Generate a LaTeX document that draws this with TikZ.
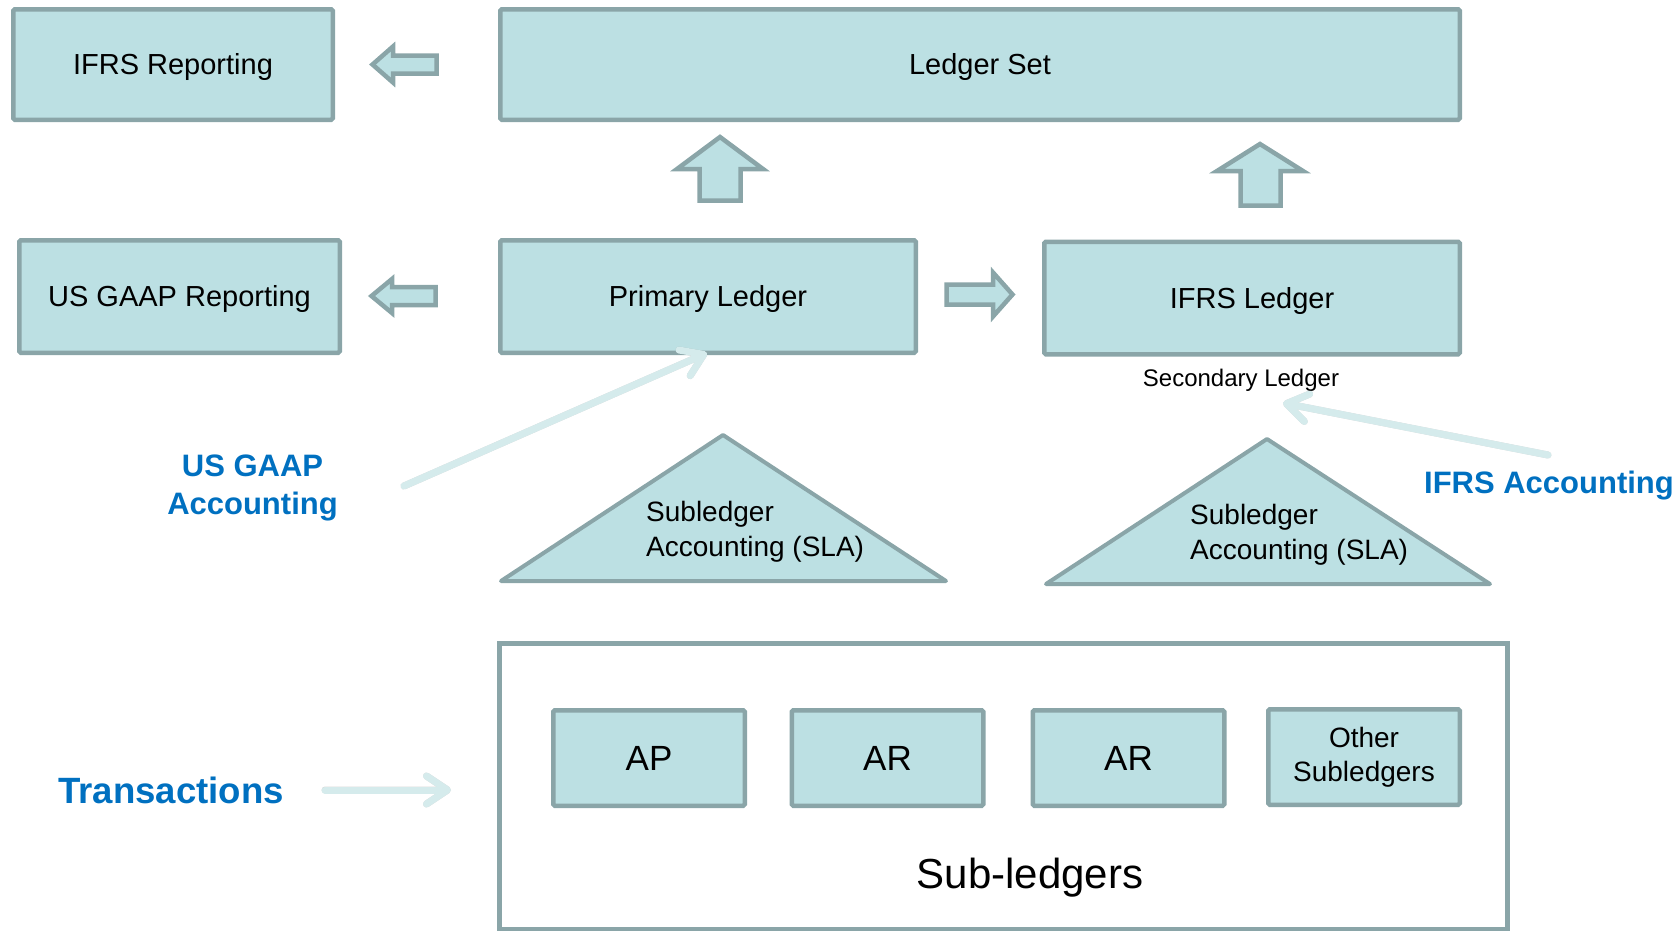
\documentclass[tikz,border=0pt]{standalone}
\usepackage{fontspec}
\setmainfont{Liberation Sans}
\usetikzlibrary{arrows.meta}

\definecolor{tealfill}{HTML}{BCE0E3}
\definecolor{tealedge}{HTML}{8AA5A8}
\definecolor{paleflow}{HTML}{D5EBEC}
\definecolor{labelblue}{HTML}{0070C0}

\tikzset{
  ledgerbox/.style={draw=tealedge, fill=tealfill, line width=4.5pt, rounded corners=1.5pt,
    inner sep=0pt, font=\fontsize{29}{34}\selectfont},
  oneline/.style={text height=20.8pt, text depth=0pt},
  bigline/.style={font=\fontsize{35}{40}\selectfont, text height=25.1pt, text depth=0pt},
  blockarrow/.style={draw=tealedge, fill=tealfill, line width=4.5pt, line join=miter},
  slatri/.style={draw=tealedge, fill=tealfill, line width=4pt, line join=round},
  slatext/.style={anchor=west, inner sep=0pt, align=left, font=\fontsize{28}{35}\selectfont},
  flowarrow/.style={draw=paleflow, line width=7pt, line cap=round,
    -{Straight Barb[length=21pt, width=28pt, round]}},
  flowshade/.style={draw=black, line width=7pt, line cap=round,
    -{Straight Barb[length=21pt, width=28pt, round]}},
  bluelabel/.style={text=labelblue, inner sep=0pt, align=center,
    font=\bfseries\fontsize{31}{37.5}\selectfont},
}

\begin{document}
\begin{tikzpicture}[x=1pt,y=-1pt]
\useasboundingbox (0,0) rectangle (1679,930);

% ---- ledgers and reporting ----
\node[ledgerbox, oneline, minimum width=319.5pt, minimum height=110.5pt] (ifrsrep) at (173,64.5) {IFRS Reporting};
\node[ledgerbox, oneline, minimum width=959.5pt, minimum height=110.5pt] (ledgerset) at (980,64.5) {Ledger Set};
\node[ledgerbox, oneline, minimum width=320.5pt, minimum height=112.5pt] (usrep) at (179.5,296.5) {US GAAP Reporting};
\node[ledgerbox, oneline, minimum width=415.5pt, minimum height=112.5pt] (primary) at (708,296.5) {Primary Ledger};
\node[ledgerbox, oneline, minimum width=415.5pt, minimum height=112.5pt] (ifrsledger) at (1252,298) {IFRS Ledger};
\node[anchor=base, inner sep=0pt, font=\fontsize{24}{28}\selectfont] (secondary) at (1241,386) {Secondary Ledger};

% ---- block arrows between ledgers ----
\draw[blockarrow] (372.5,64.5) -- (393,46.5) -- (393,55.5) -- (436.5,55.5)
  -- (436.5,73.5) -- (393,73.5) -- (393,82.5) -- cycle;
\draw[blockarrow] (371.5,296) -- (392,279) -- (392,287) -- (435.5,287)
  -- (435.5,305) -- (392,305) -- (392,313) -- cycle;
\draw[blockarrow] (1012.5,294.5) -- (993,316.5) -- (993,304.5) -- (946.5,304.5)
  -- (946.5,284.5) -- (993,284.5) -- (993,272.5) -- cycle;
\draw[blockarrow] (720,137) -- (763,169) -- (740.5,169) -- (740.5,200.5)
  -- (699.5,200.5) -- (699.5,169) -- (677,169) -- cycle;
\draw[blockarrow] (1260,144) -- (1303,171) -- (1280.5,171) -- (1280.5,205.5)
  -- (1240.5,205.5) -- (1240.5,171) -- (1217,171) -- cycle;

% ---- subledger accounting triangles ----
\draw[slatri] (723,435) -- (946,581) -- (501,581) -- cycle;
\node[slatext] (slaleft) at (646,532) {Subledger\\Accounting (SLA)};
\draw[slatri] (1267,439) -- (1490,584) -- (1046,584) -- cycle;
\node[slatext] (slaright) at (1190,535) {Subledger\\Accounting (SLA)};

% ---- sub-ledgers ----
\node[draw=tealedge, line width=4.5pt, fill=white, inner sep=0pt,
  minimum width=1008pt, minimum height=286pt] (subs) at (1003.5,786.5) {};
\node[ledgerbox, bigline, minimum width=191.5pt, minimum height=95.5pt] (ap) at (649,758) {AP};
\node[ledgerbox, bigline, minimum width=191.5pt, minimum height=95.5pt] (ar) at (887.5,758) {AR};
\node[ledgerbox, bigline, minimum width=191.5pt, minimum height=95.5pt] (artwo) at (1128.5,758) {AR};
\node[ledgerbox, align=center, font=\fontsize{28}{34}\selectfont, minimum width=191.5pt, minimum height=95.5pt] (other) at (1364,757) {Other\\Subledgers};
\node[anchor=base, inner sep=0pt, font=\fontsize{42}{48}\selectfont] (sublabel) at (1030,888) {Sub-ledgers};

% ---- accounting labels ----
\node[bluelabel] (gaaplbl) at (252.5,488) {US GAAP\\Accounting};
\node[bluelabel, anchor=base] (ifrslbl) at (1549,493) {IFRS Accounting};
\node[bluelabel, anchor=base, font=\bfseries\fontsize{36.6}{42}\selectfont] (translbl) at (171,803) {Transactions};

% ---- flow arrows ----
\coordinate (gaapTail) at (404,486);
\coordinate (gaapTip) at (707,353);
\coordinate (ifrsTail) at (1548,455);
\coordinate (ifrsTip) at (1283,403);
\coordinate (transTail) at (325,790);
\coordinate (transTip) at (451,790);

\begin{scope}[shift={(1.5,2.5)}, transparency group, opacity=0.16]
  \draw[flowshade] (gaapTail) -- (gaapTip);
  \draw[flowshade] (ifrsTail) -- (ifrsTip);
  \draw[flowshade] (transTail) -- (transTip);
\end{scope}
\draw[flowarrow] (gaapTail) -- (gaapTip);
\draw[flowarrow] (ifrsTail) -- (ifrsTip);
\draw[flowarrow] (transTail) -- (transTip);
\end{tikzpicture}
\end{document}
